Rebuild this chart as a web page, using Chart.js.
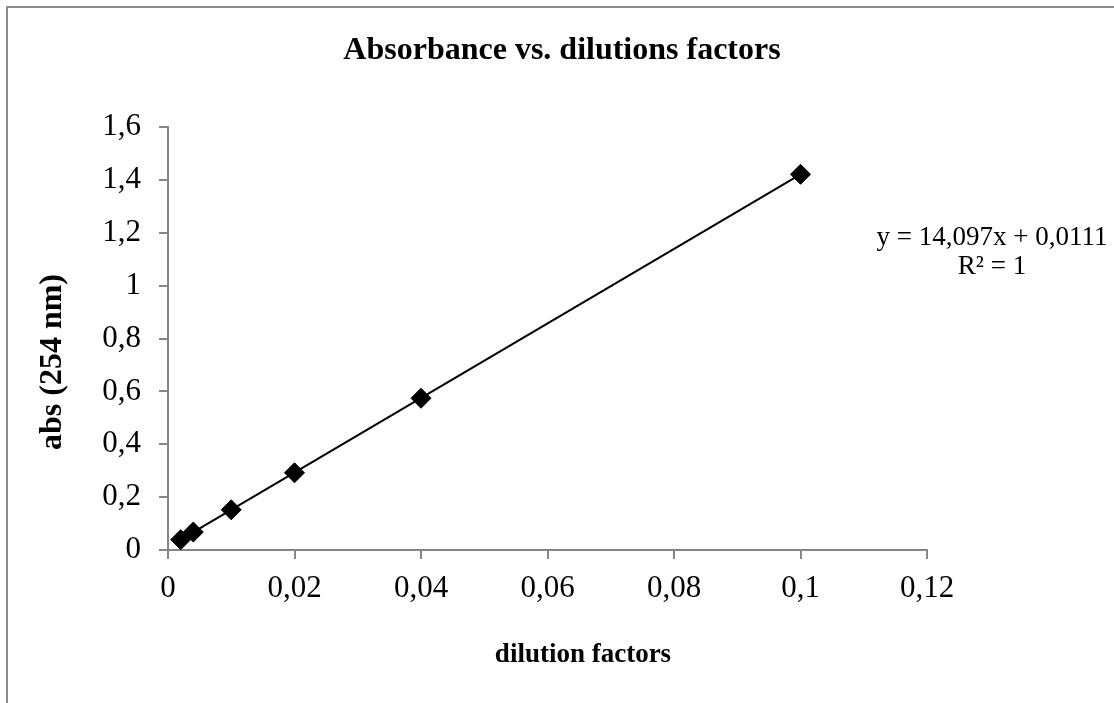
<!DOCTYPE html>
<html>
<head>
<meta charset="utf-8">
<script src="https://cdn.jsdelivr.net/npm/chart.js@4/dist/chart.umd.min.js"></script>
<style>
    html, body { margin: 0; padding: 0; background: #fff; }
    canvas { display: block; }
</style>
</head>
<body>
<canvas id="chart1" width="1114" height="703"></canvas>
<script>
const chart1div = document.getElementById("chart1")

// measured absorbance at 254 nm for each dilution
const dilutions = [0.002, 0.004, 0.01, 0.02, 0.04, 0.1]
const absorbance = [0.039, 0.068, 0.152, 0.292, 0.574, 1.421]

// linear fit shown on the chart
const slope = 14.097
const intercept = 0.0111
const rSquared = 1

const xTickLabels = ["0", "0,02", "0,04", "0,06", "0,08", "0,1", "0,12"]
const yTickLabels = ["0", "0,2", "0,4", "0,6", "0,8", "1", "1,2", "1,4", "1,6"]

const chartTitle = "Absorbance vs. dilutions factors"
const xTitle = "dilution factors"
const yTitle = "abs (254 nm)"

const serif = "'Liberation Serif', 'Times New Roman', serif"
const axisGray = "#868686"

const points = dilutions.map((x, i) => ({ x: x, y: absorbance[i] }))
const xFirst = dilutions[0]
const xLast = dilutions[dilutions.length - 1]
const trendline = [
    { x: xFirst, y: slope * xFirst + intercept },
    { x: xLast, y: slope * xLast + intercept }
]

const comma = (n) => String(n).replace(".", ",")

// white page with the grey frame around the chart
const framePlugin = {
    id: "frame",
    beforeDraw(chart) {
        const ctx = chart.ctx
        ctx.save()
        ctx.fillStyle = "#fff"
        ctx.fillRect(0, 0, chart.width, chart.height)
        ctx.strokeStyle = "#8c8c8c"
        ctx.lineWidth = 2
        ctx.strokeRect(7, 7, chart.width + 50, chart.height + 50)
        ctx.restore()
    }
}

// title, axis titles and the trendline equation
const textPlugin = {
    id: "texts",
    afterDraw(chart) {
        const ctx = chart.ctx
        ctx.save()
        ctx.fillStyle = "#000"
        ctx.textAlign = "center"

        ctx.textBaseline = "alphabetic"
        ctx.font = "bold 32px " + serif
        ctx.fillText(chartTitle, 562, 59)

        ctx.textBaseline = "middle"
        ctx.font = "bold 27px " + serif
        ctx.fillText(xTitle, 583, 655)

        ctx.save()
        ctx.translate(53, 362)
        ctx.rotate(-Math.PI / 2)
        ctx.font = "bold 32px " + serif
        ctx.fillText(yTitle, 0, 0)
        ctx.restore()

        ctx.font = "27px " + serif
        ctx.fillText("y = " + comma(slope) + "x + " + comma(intercept), 992, 238)
        ctx.fillText("R² = " + comma(rSquared), 992, 267)
        ctx.restore()
    }
}

new Chart(chart1div, {
    type: "scatter",
    data: {
        datasets: [{
            data: points,
            pointStyle: "rectRot",
            pointRadius: 10,
            pointBackgroundColor: "#000",
            pointBorderColor: "#000",
            pointBorderWidth: 1,
            showLine: false,
            order: 0
        }, {
            type: "line",
            data: trendline,
            borderColor: "#000",
            borderWidth: 2,
            pointRadius: 0,
            fill: false,
            order: 1
        }]
    },
    options: {
        responsive: false,
        animation: false,
        layout: { padding: { left: 0, right: 187, top: 127, bottom: 0 } },
        plugins: {
            legend: { display: false },
            tooltip: { enabled: false },
            title: { display: false }
        },
        scales: {
            x: {
                type: "linear",
                min: 0,
                max: 0.12,
                afterFit(scale) { scale.height = 153 },
                ticks: {
                    stepSize: 0.02,
                    color: "#000",
                    padding: 11,
                    maxRotation: 0,
                    font: { family: serif, size: 31 },
                    callback: (v, i) => xTickLabels[i]
                },
                grid: { drawOnChartArea: false, drawTicks: true, tickLength: 9, color: axisGray, lineWidth: 2 },
                border: { display: true, color: axisGray, width: 2 }
            },
            y: {
                type: "linear",
                min: 0,
                max: 1.6,
                afterFit(scale) { scale.width = 168 },
                ticks: {
                    stepSize: 0.2,
                    color: "#000",
                    padding: 18,
                    font: { family: serif, size: 31 },
                    callback: (v, i) => yTickLabels[i]
                },
                grid: { drawOnChartArea: false, drawTicks: true, tickLength: 9, color: axisGray, lineWidth: 2 },
                border: { display: true, color: axisGray, width: 2 }
            }
        }
    },
    plugins: [framePlugin, textPlugin]
});
</script>
</body>
</html>
